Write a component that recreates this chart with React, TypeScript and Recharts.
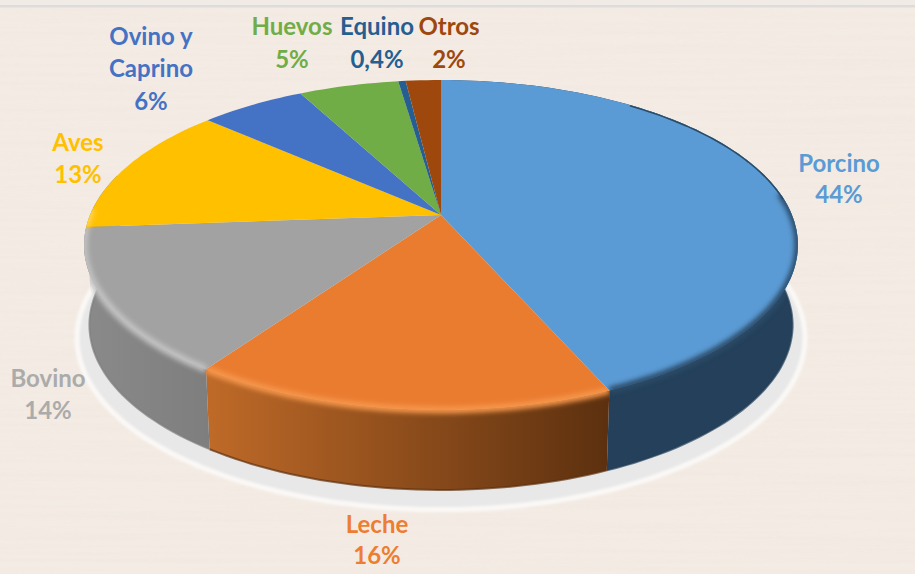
import { Pie, PieChart } from "recharts";

const CATEGORIES = ["Porcino", "Leche", "Bovino", "Aves", "Ovino y Caprino", "Huevos", "Equino", "Otros"];
// slice sizes as measured on the picture, the printed labels are rounded
const VALUES = [43.5, 16.2, 14.2, 12.8, 5.7, 5.4, 0.4, 1.9];
const PERCENT_LABELS = ["44%", "16%", "14%", "13%", "6%", "5%", "0,4%", "2%"];
const COLORS = ["#5B9BD5", "#EA7C30", "#A2A2A2", "#FFC000", "#4472C4", "#70AD47", "#255E91", "#9E480E"];
const LABEL_COLORS = ["#5B9BD5", "#ED7D31", "#ABABAB", "#FFC000", "#4472C4", "#70AD47", "#255E91", "#9E480E"];
const WALL_FROM = ["#24405A", "#BF6A28", "#8A8A8A", "#B38600", "#2F5089", "#4E7931", "#1A4266", "#6E320A"];
const WALL_TO = ["#24405A", "#5C300F", "#7E7E7E", "#B38600", "#2F5089", "#4E7931", "#1A4266", "#6E320A"];
const RIM_COLORS = ["#2B4C69", "#F5964C", "#C2C2C2", "#FFD34D", "#4472C4", "#70AD47", "#255E91", "#9E480E"];

// centre x of the label, then the baseline of each of its lines
const LABEL_X = [839, 377, 48, 78, 151, 292, 377, 449];
const LABEL_Y = [[172, 203], [533, 564], [387, 419], [151, 183], [45, 77, 110], [35, 68], [35, 68], [35, 68]];

const data = CATEGORIES.map((name, i) => ({ name, value: VALUES[i] }));
const baseData = [{ name: "base", value: 1 }];

// perspective view of the pie disc: the apex sits above the centre of the ellipse
const CX = 441;
const CY = 215;
const KX = 351;
const KY = 159.5;
const KP = 0.1818;
const DEPTH = 80;

function project(clock: number) {
  const a = (clock * Math.PI) / 180;
  const u = Math.sin(a);
  const v = -Math.cos(a);
  const w = 1 - KP * v;
  return { x: CX + (KX * u) / w, y: CY + (KY * v) / w };
}

function lower(p: { x: number; y: number }) {
  return { x: CX + (p.x - CX) * 0.985, y: p.y + DEPTH };
}

function arcPoints(from: number, to: number) {
  const pts = [];
  const steps = Math.max(2, Math.ceil((to - from) / 1.5));
  for (let i = 0; i <= steps; i++) pts.push(project(from + ((to - from) * i) / steps));
  return pts;
}

const toPath = (pts: { x: number; y: number }[]) =>
  pts.map((p, i) => `${i === 0 ? "M" : "L"}${p.x.toFixed(1)} ${p.y.toFixed(1)}`).join(" ");

function clockRange(props: any) {
  return [90 - props.startAngle, 90 - props.endAngle];
}

function topPath(from: number, to: number) {
  return `M${CX} ${CY} ${toPath(arcPoints(from, to)).replace("M", "L")} Z`;
}

function wallPath(from: number, to: number) {
  const arc = arcPoints(from, to);
  return `${toPath([...arc, ...arc.map(lower).reverse()])} Z`;
}

function BaseShape(props: any) {
  const [from, to] = clockRange(props);
  const pts = arcPoints(from, to).map((p) => {
    const q = lower(p);
    return { x: CX + (q.x - CX) * 1.035, y: 325 + (q.y - 325) * 1.04 + 13 };
  });
  return (
    <g>
      <defs>
        <filter id="base-blur" filterUnits="userSpaceOnUse" x="0" y="0" width="915" height="574">
          <feGaussianBlur stdDeviation="1" />
        </filter>
      </defs>
      <path d={`${toPath(pts)} Z`} fill="#E8E8E8" stroke="#FAF8F6" strokeWidth={5} filter="url(#base-blur)" />
    </g>
  );
}

function WallShape(props: any) {
  const [from, rawTo] = clockRange(props);
  // the slices behind the disc have no visible wall, the last front one wraps round the left edge
  if (from >= 260) return null;
  const to = rawTo >= 260 ? 285 : rawTo;
  const i = CATEGORIES.indexOf(props.name);
  const arc = arcPoints(from, to);
  return (
    <g>
      <defs>
        <linearGradient id={`wall-${i}`} x1="0" y1="0" x2="1" y2="0">
          <stop offset="0%" stopColor={WALL_FROM[i]} />
          <stop offset="100%" stopColor={WALL_TO[i]} />
        </linearGradient>
      </defs>
      <path d={wallPath(from, to)} fill={`url(#wall-${i})`} />
      <path d={toPath(arc.map(lower))} fill="none" stroke={WALL_TO[i]} strokeOpacity={0.7} strokeWidth={2} />
    </g>
  );
}

function TopShape(props: any) {
  const [from, to] = clockRange(props);
  const i = CATEGORIES.indexOf(props.name);
  const rimFrom = Math.max(from, 82);
  const rimTo = Math.min(to, 272);
  const edgeFrom = Math.max(from, 38);
  const edgeTo = Math.min(to, 84);
  return (
    <g>
      <defs>
        <filter id={`rim-blur-${i}`} filterUnits="userSpaceOnUse" x="0" y="0" width="915" height="574">
          <feGaussianBlur stdDeviation="2.6" />
        </filter>
        <clipPath id={`rim-clip-${i}`}>
          <path d={topPath(from, to)} />
          <path d={wallPath(from, to)} />
        </clipPath>
      </defs>
      <path d={topPath(from, to)} fill={COLORS[i]} />
      <g clipPath={`url(#rim-clip-${i})`}>
        {edgeTo > edgeFrom && (
          <path d={toPath(arcPoints(edgeFrom, edgeTo))} fill="none" stroke={RIM_COLORS[i]} strokeWidth={3} />
        )}
        {rimTo > rimFrom && (
          <path
            d={toPath(arcPoints(rimFrom, rimTo))}
            fill="none"
            stroke={RIM_COLORS[i]}
            strokeWidth={7}
            filter={`url(#rim-blur-${i})`}
          />
        )}
      </g>
    </g>
  );
}

function labelLines(name: string, percent: string) {
  const parts = name.includes(" y ") ? name.replace(" y ", " y\n").split("\n") : [name];
  return [...parts, percent];
}

function renderLabel(props: any) {
  const i = props.index;
  const lines = labelLines(CATEGORIES[i], PERCENT_LABELS[i]);
  return (
    <text
      key={CATEGORIES[i]}
      textAnchor="middle"
      fill={LABEL_COLORS[i]}
      fontFamily="Lato, 'Open Sans', sans-serif"
      fontWeight={700}
      fontSize={24}
    >
      {lines.map((line, j) => (
        <tspan key={line} x={LABEL_X[i]} y={LABEL_Y[i][j]}>
          {line}
        </tspan>
      ))}
    </text>
  );
}

export default function App() {
  return (
    <div style={{ position: "absolute", left: 0, top: 0, width: 915, height: 574, background: "#F4ECE4", overflow: "hidden" }}>
      {/* wood grain backdrop */}
      <svg width={915} height={574} style={{ position: "absolute", left: 0, top: 0 }}>
        <filter id="grain" x="0" y="0" width="100%" height="100%">
          <feTurbulence type="fractalNoise" baseFrequency="0.004 0.22" numOctaves={3} seed={7} />
          <feColorMatrix values="0 0 0 0 0.84  0 0 0 0 0.78  0 0 0 0 0.72  0.9 0 0 0 -0.3" />
        </filter>
        <rect width={915} height={574} filter="url(#grain)" opacity={0.7} />
        <rect width={915} height={5} fill="#F1EBE5" />
        <rect y={5} width={915} height={2.5} fill="#DEDCDA" />
      </svg>
      <div style={{ position: "absolute", left: 0, top: 0 }}>
        <PieChart width={915} height={574} margin={{ top: 0, right: 0, bottom: 0, left: 0 }}>
          <Pie
            data={baseData}
            dataKey="value"
            cx={CX}
            cy={CY}
            outerRadius={100}
            startAngle={90}
            endAngle={-270}
            stroke="none"
            shape={BaseShape}
            isAnimationActive={false}
          />
          <Pie
            data={data}
            dataKey="value"
            cx={CX}
            cy={CY}
            outerRadius={100}
            startAngle={90}
            endAngle={-270}
            stroke="none"
            shape={WallShape}
            isAnimationActive={false}
          />
          <Pie
            data={data}
            dataKey="value"
            cx={CX}
            cy={CY}
            outerRadius={100}
            startAngle={90}
            endAngle={-270}
            stroke="none"
            shape={TopShape}
            label={renderLabel}
            labelLine={false}
            isAnimationActive={false}
          />
        </PieChart>
      </div>
    </div>
  );
}
